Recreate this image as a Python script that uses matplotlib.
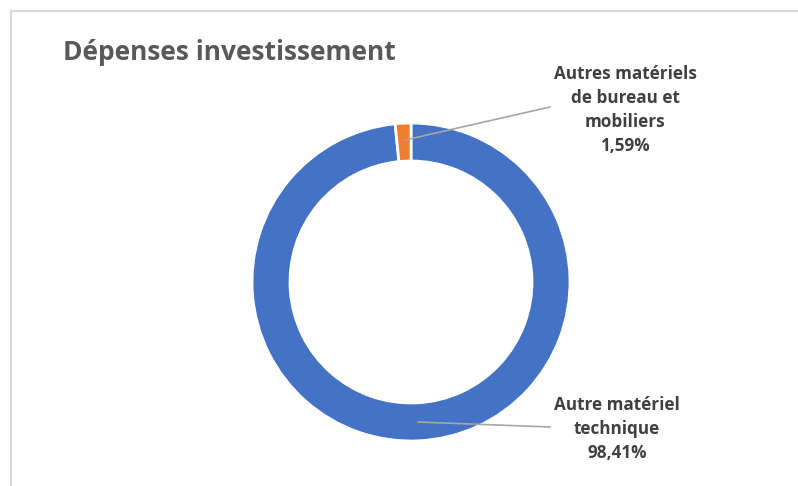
import matplotlib.pyplot as plt
from matplotlib.lines import Line2D

# data
labels = ['Autre matériel\ntechnique', 'Autres matériels\nde bureau et\nmobiliers']
values = [98.41, 1.59]
colors = ['#4472C4', '#ED7D31']
title = 'Dépenses investissement'

W, H = 798, 486
fig = plt.figure(figsize=(W / 100, H / 100), dpi=100)
ax = fig.add_axes([0, 0, 1, 1])

cx, cy, r = 411, H - 282, 159
wedges, _ = ax.pie(values, colors=colors, startangle=90, counterclock=False,
                   center=(cx, cy), radius=r, frame=True,
                   wedgeprops=dict(width=38, edgecolor='white', linewidth=2))
ax.set_xlim(0, W)
ax.set_ylim(0, H)
ax.set_aspect('equal')
ax.axis('off')

txt_kw = dict(ha='center', va='center', fontsize=12.3, fontweight='bold',
              color='#404040', family='Open Sans', linespacing=1.42)

# blue label
ax.plot([418, 550], [H - 422, H - 427], color='#A6A6A6', lw=1.2)
ax.text(617, H - 429, f"{labels[0]}\n{values[0]:.2f}%".replace('.', ','), **txt_kw)

# orange label
ax.plot([405, 550], [H - 140, H - 107], color='#A6A6A6', lw=1.2)
ax.text(625, H - 110, f"{labels[1]}\n{values[1]:.2f}%".replace('.', ','), **txt_kw)

fig.text(63 / W, 1 - 52 / H, title, ha='left', va='center', fontsize=19,
         fontweight='bold', color='#595959', family='Open Sans')

# chart area border (top and left edges visible)
fig.add_artist(Line2D([10.5 / W, 1], [1 - 11.5 / H, 1 - 11.5 / H],
                      transform=fig.transFigure, color='#D9D9D9', lw=1.5))
fig.add_artist(Line2D([10.5 / W, 10.5 / W], [0, 1 - 11.5 / H],
                      transform=fig.transFigure, color='#D9D9D9', lw=1.5))

fig.savefig('out.png', dpi=100)
